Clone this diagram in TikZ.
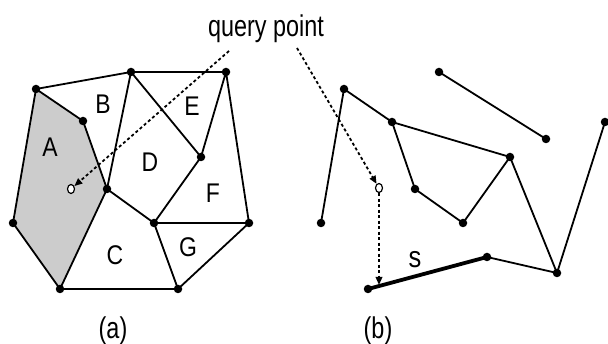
\documentclass[tikz,border=0pt]{standalone}
\usepackage{fontspec}
\setmainfont{Liberation Sans}
\usetikzlibrary{arrows.meta,shapes.geometric}
\begin{document}
\begin{tikzpicture}[x=1pt,y=-1pt,
  edge/.style={line width=1.8pt,line cap=round,line join=round},
  dot/.style={circle,fill=black,inner sep=0pt,minimum size=8.5pt},
  qpt/.style={ellipse,draw=black,fill=white,line width=1.2pt,inner sep=0pt,minimum width=7pt,minimum height=9pt},
  qline/.style={line width=1.8pt,dash pattern=on 3pt off 2.5pt,-{Triangle[length=8pt,width=6.5pt]}},
  region/.style={font=\fontsize{27}{27}\selectfont},
  captext/.style={font=\fontsize{30}{30}\selectfont,anchor=base}]
\useasboundingbox (0,0) rectangle (608,344);
% ---- panel (a)
\coordinate (p1) at (36,89);
\coordinate (p2) at (83,121);
\coordinate (p3) at (131,72);
\coordinate (p4) at (226,72);
\coordinate (p5) at (201,157);
\coordinate (p6) at (107,189);
\coordinate (p7) at (154,223);
\coordinate (p8) at (249,223);
\coordinate (p9) at (13,223);
\coordinate (p10) at (60,289);
\coordinate (p11) at (178,289);
\fill[gray!40] (p1) -- (p2) -- (p6) -- (p10) -- (p9) -- cycle;
\draw[edge] (p1) -- (p3) -- (p4);
\draw[edge] (p1) -- (p2) -- (p6) -- (p10) -- (p9) -- cycle;
\draw[edge] (p3) -- (p6);
\draw[edge] (p3) -- (p5) -- (p4) -- (p8);
\draw[edge] (p5) -- (p7) -- (p6);
\draw[edge] (p7) -- (p8) -- (p11) -- (p10);
\draw[edge] (p7) -- (p11);
\foreach \n in {p1,p2,p3,p4,p5,p6,p7,p8,p9,p10,p11} \node[dot] at (\n) {};
\node[region] (lA) at (50,147) {\scalebox{0.85}[1]{A}};
\node[region] (lB) at (103,104) {\scalebox{0.85}[1]{B}};
\node[region] (lE) at (192,106) {\scalebox{0.85}[1]{E}};
\node[region] (lD) at (150,162) {\scalebox{0.85}[1]{D}};
\node[region] (lF) at (213,193) {\scalebox{0.85}[1]{F}};
\node[region] (lC) at (115,255) {\scalebox{0.85}[1]{C}};
\node[region] (lG) at (188,247) {\scalebox{0.85}[1]{G}};
% ---- panel (b)
\coordinate (q1) at (344,89);
\coordinate (q2) at (321,223);
\coordinate (q3) at (392,122);
\coordinate (q4) at (510,157);
\coordinate (q5) at (415,189);
\coordinate (q6) at (463,223);
\coordinate (q7) at (439,72);
\coordinate (q8) at (546,139);
\coordinate (q9) at (605,122);
\coordinate (q10) at (557,273);
\coordinate (q11) at (487,257);
\coordinate (q12) at (368,289);
\draw[edge] (q2) -- (q1) -- (q3) -- (q4) -- (q10) -- (q9);
\draw[edge] (q3) -- (q5) -- (q6) -- (q4);
\draw[edge] (q10) -- (q11);
\draw[edge] (q7) -- (q8);
\draw[line width=3.8pt,line cap=round] (q12) -- (q11);
\foreach \n in {q1,q2,q3,q4,q5,q6,q7,q8,q9,q10,q11,q12} \node[dot] at (\n) {};
\node[region,font=\fontsize{30}{30}\selectfont] (ls) at (415,260) {\scalebox{0.85}[1]{s}};
% ---- query points
\node[qpt] (qa) at (71,189) {};
\node[qpt] (qb) at (379,188) {};
\node[captext] (qlabel) at (266,37) {\scalebox{0.78}[1]{query point}};
\coordinate (qs1) at (229,51);
\coordinate (qs2) at (297,48);
\coordinate (sfoot) at (379,285);
\draw[qline] (qs1) -- (qa);
\draw[qline] (qs2) -- (qb);
\draw[qline] (qb) -- (sfoot);
\node[captext] (capa) at (113,339) {\scalebox{0.78}[1]{(a)}};
\node[captext] (capb) at (378,339) {\scalebox{0.78}[1]{(b)}};
\end{tikzpicture}
\end{document}
